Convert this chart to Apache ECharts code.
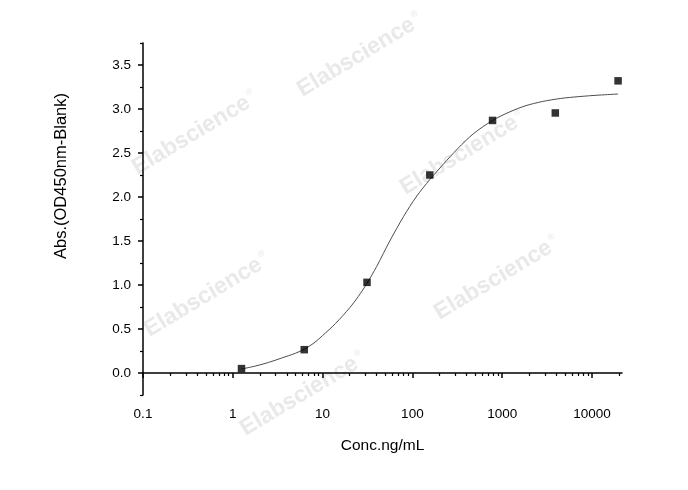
<!DOCTYPE html>
<html>
<head>
<meta charset="utf-8">
<script src="https://cdn.jsdelivr.net/npm/echarts@6/dist/echarts.min.js"></script>
<style>
	html, body { margin: 0; padding: 0; background: #fff; }
	#main { width: 688px; height: 490px; }
</style>
</head>
<body>
<div id="main"></div>
<script>
// standard points (ng/mL, OD)
var concentrations = [1.25, 6.25, 31.25, 156.25, 781.25, 3906.25, 19531.25];
var absorbance = [0.05, 0.265, 1.03, 2.25, 2.87, 2.955, 3.32];

// fitted curve
var curveConc = [1.25, 1.8, 2.5, 3.5, 5, 6.25, 8, 10, 14, 20, 25, 31.25, 40, 56, 80, 110, 157, 220, 320, 480, 781.25, 1200, 1800, 2800, 4500, 7000, 12000, 19531.25];
var curveAbs = [0.045, 0.08, 0.12, 0.17, 0.225, 0.27, 0.34, 0.425, 0.565, 0.74, 0.87, 1.02, 1.21, 1.5, 1.78, 2.0, 2.2, 2.37, 2.55, 2.72, 2.87, 2.965, 3.035, 3.085, 3.12, 3.14, 3.158, 3.17];

var xTicks = [0.1, 1, 10, 100, 1000, 10000];
var yTicks = [0, 0.5, 1, 1.5, 2, 2.5, 3, 3.5];
var yMinorTicks = [-0.25, 0.25, 0.75, 1.25, 1.75, 2.25, 2.75, 3.25, 3.75];

var xMinorTicks = [];
for (var d = 0.1; d < 20000; d *= 10) {
	for (var m = 2; m <= 9; m++) {
		xMinorTicks.push(+(d * m).toPrecision(3));
	}
}

var scatterData = [];
for (var i = 0; i < concentrations.length; i++) {
	scatterData.push([concentrations[i], absorbance[i]]);
}
var curveData = [];
for (var i = 0; i < curveConc.length; i++) {
	curveData.push([curveConc[i], curveAbs[i]]);
}

var watermarks = [
	[360, 55], [195, 133], [463, 153], [497, 278], [207, 295], [303, 394]
];

var font = 'Liberation Sans, Arial, sans-serif';
var chart = echarts.init(document.getElementById('main'));

var graphics = [];
for (var i = 0; i < watermarks.length; i++) {
	graphics.push({
		type: 'text',
		x: watermarks[i][0],
		y: watermarks[i][1],
		rotation: 31 * Math.PI / 180,
		z: -10,
		silent: true,
		style: {
			text: '{a|Elabscience}{r|®}',
			align: 'center',
			verticalAlign: 'middle',
			rich: {
				a: { fontFamily: font, fontSize: 23, fontWeight: 'bold', fill: '#e9e9e9' },
				r: { fontFamily: font, fontSize: 9, fill: '#e9e9e9', verticalAlign: 'top', padding: [0, 0, 14, 2] }
			}
		}
	});
}
graphics.push({
	type: 'text',
	x: 61,
	y: 176,
	rotation: Math.PI / 2,
	style: {
		text: 'Abs.(OD450nm-Blank)',
		align: 'center',
		verticalAlign: 'middle',
		fontFamily: font,
		fontSize: 16.5,
		fill: '#000'
	}
});

var option = {
	animation: false,
	backgroundColor: '#fff',
	grid: {
		left: 143,
		right: 66,
		top: 43,
		bottom: 95
	},
	graphic: graphics,
	xAxis: [{
		type: 'log',
		logBase: 10,
		min: 0.1,
		max: 21600,
		name: 'Conc.ng/mL',
		nameLocation: 'middle',
		nameGap: 43,
		nameTextStyle: { fontFamily: font, fontSize: 15.5, color: '#000' },
		splitLine: { show: false },
		axisLine: { lineStyle: { color: '#000', width: 1.5 } },
		axisTick: {
			customValues: xTicks,
			length: 5,
			lineStyle: { color: '#000', width: 1.5 }
		},
		axisLabel: {
			customValues: xTicks,
			margin: 12,
			fontFamily: font,
			fontSize: 13.5,
			color: '#000',
			formatter: function (v) { return String(v); }
		}
	}, {
		type: 'log',
		logBase: 10,
		min: 0.1,
		max: 21600,
		position: 'bottom',
		splitLine: { show: false },
		axisLine: { show: false },
		axisLabel: { show: false },
		axisTick: {
			customValues: xMinorTicks,
			length: 3,
			lineStyle: { color: '#000', width: 1.2 }
		}
	}],
	yAxis: [{
		type: 'value',
		min: -0.25,
		max: 3.75,
		splitLine: { show: false },
		axisLine: { show: true, lineStyle: { color: '#000', width: 1.5 } },
		axisTick: {
			customValues: yTicks,
			length: 5,
			lineStyle: { color: '#000', width: 1.5 }
		},
		axisLabel: {
			customValues: yTicks,
			margin: 12,
			fontFamily: font,
			fontSize: 13.5,
			color: '#000',
			formatter: function (v) { return v.toFixed(1); }
		}
	}, {
		type: 'value',
		min: -0.25,
		max: 3.75,
		position: 'left',
		splitLine: { show: false },
		axisLine: { show: false },
		axisLabel: { show: false },
		axisTick: {
			show: true,
			customValues: yMinorTicks,
			length: 3,
			lineStyle: { color: '#000', width: 1.2 }
		}
	}],
	series: [{
		name: 'fit',
		type: 'line',
		data: curveData,
		smooth: 0.3,
		showSymbol: false,
		symbol: 'none',
		lineStyle: { color: '#4d4d4d', width: 1 },
		z: 2
	}, {
		name: 'standard',
		type: 'scatter',
		data: scatterData,
		symbol: 'rect',
		symbolSize: 7.5,
		itemStyle: { color: '#000' },
		z: 3
	}]
};
chart.setOption(option);
</script>
</body>
</html>
